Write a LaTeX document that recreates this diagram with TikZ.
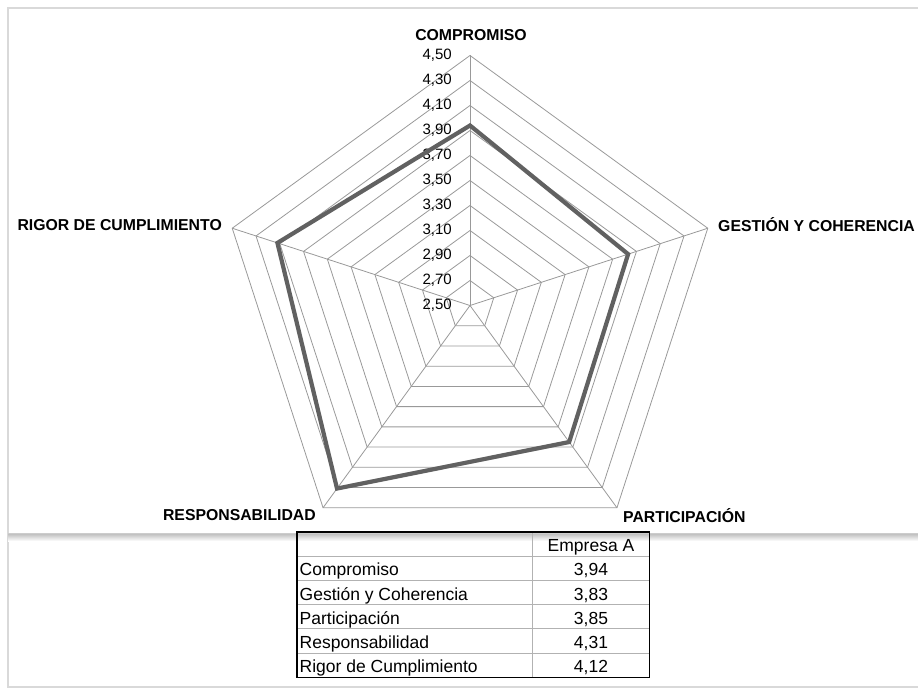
\documentclass[tikz,border=0pt]{standalone}
\usepackage{fontspec}
\setmainfont{Liberation Sans}
\begin{document}
\begin{tikzpicture}[x=1pt,y=1pt,
  grille/.style={draw=gray!80,line width=0.8pt},
  donnee/.style={draw=black!62,line width=4.2pt,line join=miter},
  axe/.style={font=\bfseries\fontsize{15.8}{18}\selectfont,inner sep=0pt},
  graduation/.style={font=\fontsize{15}{17}\selectfont,anchor=east,inner sep=0pt},
  cellule/.style={font=\fontsize{17.5}{19}\selectfont,inner sep=0pt}]
\useasboundingbox (0,0) rectangle (918,689);
\pgfkeys{/pgf/number format/assume math mode=true}
\pgfmathsetmacro{\cx}{470}
\pgfmathsetmacro{\cy}{383.5}
\pgfmathsetmacro{\pas}{25}
% cadres
\draw[gray!30,line width=1.5pt] (918,681) -- (8,681) -- (8,2) -- (918,2);
\shade[top color=gray!55,bottom color=white] (8,148) rectangle (918,156);
\draw[gray!40,line width=1pt] (8,156) -- (918,156);
% radar
\begin{scope}[shift={(\cx,\cy)}]
\foreach \k in {1,...,10} {
  \pgfmathsetmacro{\r}{\pas*\k}
  \draw[grille] (90:\r) -- (18:\r) -- (-54:\r) -- (-126:\r) -- (162:\r) -- cycle;
}
\foreach \a in {90,18,-54,-126,162}
  \draw[grille] (0,0) -- (\a:10*\pas);
\foreach \k in {0,...,10} {
  \pgfmathsetmacro{\v}{2.5+0.2*\k}
  \node[graduation] (g\k) at (-18,\k*\pas) {\pgfmathprintnumber[fixed,precision=2,fixed zerofill,use comma]{\v}};
}
\draw[donnee] (90:180) -- (18:166.25) -- (-54:168.75) -- (-126:226.25) -- (162:202.5) -- cycle;
\end{scope}
\node[axe] (compromiso) at (471,654) {COMPROMISO};
\node[axe,anchor=west] (gestion) at (718,464) {GESTIÓN Y COHERENCIA};
\node[axe,anchor=west] (participacion) at (623,173.5) {PARTICIPACIÓN};
\node[axe,anchor=east] (responsabilidad) at (316,174) {RESPONSABILIDAD};
\node[axe,anchor=east] (rigor) at (222,464) {RIGOR DE CUMPLIMIENTO};
% tabla
\pgfmathsetmacro{\alto}{24.2}
\foreach \i in {1,...,5}
  \draw[gray!60,line width=0.8pt] (297,157-\i*\alto) -- (649.5,157-\i*\alto);
\draw[gray!60,line width=0.8pt] (532.5,157) -- (532.5,157-6*\alto);
\draw[black,line width=1.2pt] (297,157) rectangle (649.5,157-6*\alto);
\node[cellule,anchor=base] (empresa) at (591,157-\alto+4.5) {Empresa A};
\foreach \i/\n/\v in {1/Compromiso/3{,}94,2/Gestión y Coherencia/3{,}83,3/Participación/3{,}85,4/Responsabilidad/4{,}31,5/Rigor de Cumplimiento/4{,}12} {
  \node[cellule,anchor=base west] (fila\i) at (299.5,157-\i*\alto-\alto+4.5) {\n};
  \node[cellule,anchor=base] (valor\i) at (591,157-\i*\alto-\alto+4.5) {\v};
}
\end{tikzpicture}
\end{document}
